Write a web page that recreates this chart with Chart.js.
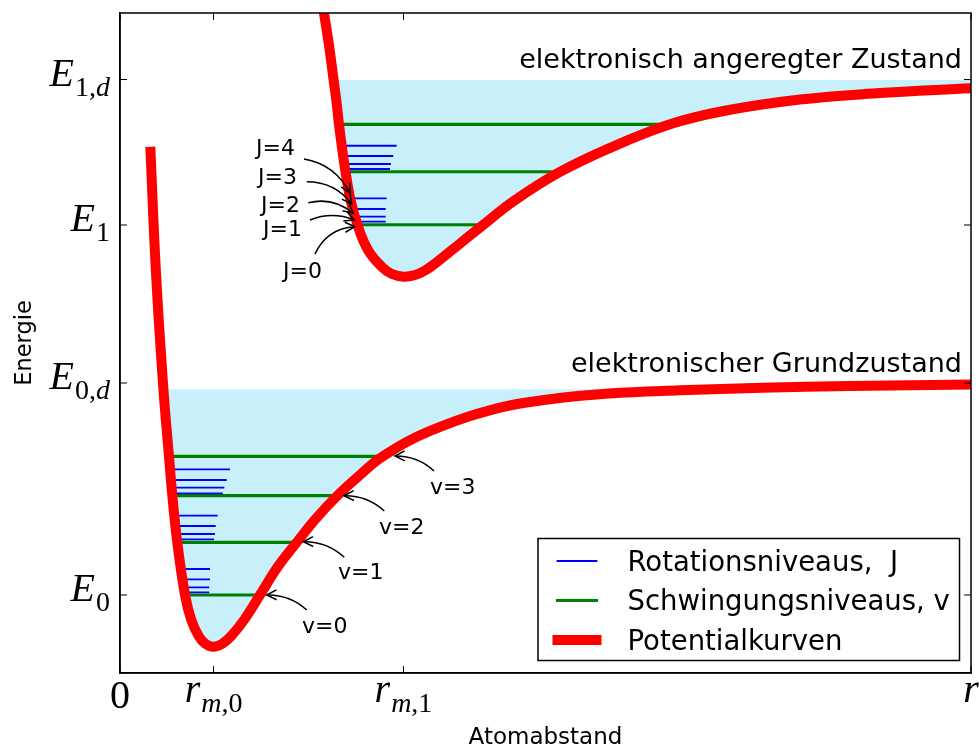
<!DOCTYPE html>
<html><head><meta charset="utf-8">
<script src="https://cdn.jsdelivr.net/npm/chart.js@4.4.1/dist/chart.umd.min.js"></script>
<style>html,body{margin:0;padding:0;background:#fff;overflow:hidden}#wrap{width:979px;height:749px}</style>
</head><body><div id="wrap"><canvas id="c" width="979" height="749"></canvas></div>
<script>
// ---------- data ----------
const xTickValues = [0, 1.099, 3.331, 10];
const xTickLabels = ['0', 'r_{m,0}', 'r_{m,1}', 'r'];
const yTickValues = [1.182, 4.394, 6.788, 8.992];
const yTickLabels = ['E_{0}', 'E_{0,d}', 'E_{1}', 'E_{1,d}'];

const groundX = [0.356, 0.423, 0.511, 0.576, 0.615, 0.673, 0.764, 0.838, 0.924, 0.999, 1.096, 1.206, 1.308, 1.457, 1.645, 1.857, 2.080, 2.303, 2.550, 2.820, 3.090, 3.643, 4.442, 5.053, 5.746, 6.580, 7.544, 8.578, 10.0];
const groundY = [7.974, 6.061, 4.288, 3.277, 2.686, 1.980, 1.182, 0.803, 0.561, 0.447, 0.398, 0.447, 0.561, 0.803, 1.182, 1.614, 1.985, 2.341, 2.682, 3.000, 3.283, 3.667, 4.012, 4.148, 4.235, 4.283, 4.321, 4.348, 4.371];
const excitedX = [2.374, 2.397, 2.459, 2.510, 2.544, 2.573, 2.609, 2.650, 2.709, 2.789, 2.914, 3.075, 3.196, 3.334, 3.467, 3.584, 3.725, 3.995, 4.266, 4.625, 5.159, 5.746, 6.463, 7.092, 7.991, 8.884, 10.0];
const excitedY = [10.197, 10.0, 9.485, 8.985, 8.652, 8.314, 7.955, 7.595, 7.167, 6.798, 6.409, 6.156, 6.045, 6.005, 6.030, 6.098, 6.227, 6.506, 6.788, 7.150, 7.585, 7.950, 8.314, 8.515, 8.689, 8.783, 8.859];
const groundDissociation = 4.30;
const excitedDissociation = 8.985;

const vibY      = [1.182, 1.980, 2.686, 3.283, 6.792, 7.595, 8.314];
const vibXStart = [0.764, 0.673, 0.615, 0.576, 2.789, 2.652, 2.577];
const vibXEnd   = [1.645, 2.080, 2.550, 3.090, 4.254, 5.135, 6.463];

const rotY      = [1.223, 1.298, 1.420, 1.576,  2.026, 2.106, 2.227, 2.383,  2.723, 2.808, 2.924, 3.086,  6.838, 6.914, 7.030, 7.192,  7.636, 7.712, 7.833, 7.989];
const rotXStart = [0.759, 0.755, 0.740, 0.723,  0.670, 0.663, 0.652, 0.639,  0.611, 0.606, 0.599, 0.588,  2.781, 2.769, 2.749, 2.720,  2.647, 2.640, 2.627, 2.610];
const rotXEnd   = [1.049, 1.049, 1.058, 1.058,  1.105, 1.116, 1.125, 1.148,  1.207, 1.226, 1.254, 1.293,  3.122, 3.122, 3.122, 3.134,  3.173, 3.184, 3.211, 3.251];

const seriesNames = ['Rotationsniveaus,  J', 'Schwingungsniveaus, v', 'Potentialkurven'];
const stateLabels = ['elektronisch angeregter Zustand', 'elektronischer Grundzustand'];
const annotationTexts = ['J=4', 'J=3', 'J=2', 'J=1', 'J=0', 'v=0', 'v=1', 'v=2', 'v=3'];
const axisTitles = ['Atomabstand', 'Energie'];

// ---------- layout of texts (data coordinates) ----------
const annotationLayout = [
  {text:[1.598,7.848], tail:[2.162,7.788], head:[2.703,7.268], rad:0.25},
  {text:[1.622,7.405], tail:[2.194,7.444], head:[2.723,7.106], rad:0.25},
  {text:[1.657,6.989], tail:[2.213,7.126], head:[2.741,6.965], rad:0.25},
  {text:[1.680,6.621], tail:[2.233,6.864], head:[2.753,6.864], rad:0.2},
  {text:[1.915,5.980], tail:[2.291,6.348], head:[2.761,6.762], rad:0.3},
  {text:[2.139,0.611], tail:[2.194,0.955], head:[1.724,1.182], rad:-0.2},
  {text:[2.562,1.420], tail:[2.636,1.753], head:[2.154,1.989], rad:-0.2},
  {text:[3.043,2.106], tail:[3.106,2.455], head:[2.632,2.686], rad:-0.2},
  {text:[3.643,2.712], tail:[3.690,3.061], head:[3.231,3.288], rad:-0.2}
];
const stateLabelLayout = [[9.894, 9.167], [9.894, 4.561]];

// ---------- build datasets ----------
const zip = (xs, ys) => xs.map((x, i) => ({x, y: ys[i]}));
function segments(xs, xe, ys) {
  const out = [];
  ys.forEach((y, i) => { out.push({x: xs[i], y}, {x: xe[i], y}, {x: xe[i], y: null}); });
  return out;
}
function fillShape(xs, ys, top) {
  const pts = [];
  let started = false;
  xs.forEach((x, i) => {
    if (!started && ys[i] <= top) started = true;
    if (started) pts.push({x, y: ys[i]});
  });
  pts.push({x: xs[xs.length - 1], y: top});
  pts.push({x: pts[0].x, y: top});
  return pts;
}
const RED = '#ff0000', GREEN = '#008000', BLUE = '#0000ff', FILL = '#c7f0fb';

const datasets = [
  {label: seriesNames[2], data: zip(groundX, groundY), borderColor: RED, borderWidth: 10, tension: 0.4, clip: 0, borderCapStyle: 'butt', borderJoinStyle: 'round'},
  {label: seriesNames[2], data: zip(excitedX, excitedY), borderColor: RED, borderWidth: 10, tension: 0.4, clip: 0, borderCapStyle: 'butt', borderJoinStyle: 'round'},
  {label: seriesNames[0], data: segments(rotXStart, rotXEnd, rotY), borderColor: BLUE, borderWidth: 1.8, spanGaps: false, clip: 0},
  {label: seriesNames[1], data: segments(vibXStart, vibXEnd, vibY), borderColor: GREEN, borderWidth: 3.2, spanGaps: false, clip: 0},
  {label: 'fill1', data: fillShape(excitedX, excitedY, excitedDissociation), borderWidth: 0, borderColor: 'rgba(0,0,0,0)', backgroundColor: FILL, fill: 'shape', clip: 0},
  {label: 'fill0', data: fillShape(groundX, groundY, groundDissociation), borderWidth: 0, borderColor: 'rgba(0,0,0,0)', backgroundColor: FILL, fill: 'shape', clip: 0}
];
datasets.forEach(d => { d.showLine = true; d.pointRadius = 0; d.pointHoverRadius = 0; });

// ---------- math label helpers ----------
const SERIF = '"Liberation Serif", "DejaVu Serif", serif';
const BASE = 40, SUB = 28, DROP = 10;
function parseMath(s) { const m = s.match(/^([^_]*)(?:_\{(.*)\})?$/); return {base: m[1], sub: m[2] || ''}; }
function font(it, size) { return (it ? 'italic ' : '') + size + 'px ' + SERIF; }
function runW(ctx, str, size) { let w = 0; for (const ch of str) { ctx.font = font(/[A-Za-z]/.test(ch), size); w += ctx.measureText(ch).width; } return w; }
function runDraw(ctx, str, size, x, y) { for (const ch of str) { ctx.font = font(/[A-Za-z]/.test(ch), size); ctx.fillText(ch, x, y); x += ctx.measureText(ch).width; } return x; }
function mathWidth(ctx, lab) { const p = parseMath(lab); return runW(ctx, p.base, BASE) + (p.sub ? 1 + runW(ctx, p.sub, SUB) : 0); }
function mathDraw(ctx, lab, x, y) { const p = parseMath(lab); let nx = runDraw(ctx, p.base, BASE, x, y); if (p.sub) runDraw(ctx, p.sub, SUB, nx + 1, y + DROP); }

const overlay = {
  id: 'overlay',
  afterDraw(chart) {
    const ctx = chart.ctx, xs = chart.scales.x, ys = chart.scales.y, ca = chart.chartArea;
    const px = v => xs.getPixelForValue(v), py = v => ys.getPixelForValue(v);
    ctx.save();
    ctx.fillStyle = '#000'; ctx.strokeStyle = '#000';
    // annotations with arrows
    annotationTexts.forEach((t, i) => {
      const a = annotationLayout[i];
      ctx.font = '22px "DejaVu Sans"'; ctx.textAlign = 'left'; ctx.textBaseline = 'alphabetic';
      ctx.fillText(t, px(a.text[0]), py(a.text[1]));
      const x1 = px(a.tail[0]), y1 = py(a.tail[1]), x2 = px(a.head[0]), y2 = py(a.head[1]);
      const mx = (x1 + x2) / 2, my = (y1 + y2) / 2, dx = x2 - x1, dy = y2 - y1;
      const cx = mx + a.rad * dy, cy = my - a.rad * dx;
      ctx.lineWidth = 1.5; ctx.lineCap = 'butt';
      ctx.beginPath(); ctx.moveTo(x1, y1); ctx.quadraticCurveTo(cx, cy, x2, y2); ctx.stroke();
      const ang = Math.atan2(y2 - cy, x2 - cx), L = 11, h = 0.47;
      ctx.beginPath();
      ctx.moveTo(x2 - L * Math.cos(ang - h), y2 - L * Math.sin(ang - h));
      ctx.lineTo(x2, y2);
      ctx.lineTo(x2 - L * Math.cos(ang + h), y2 - L * Math.sin(ang + h));
      ctx.stroke();
    });
    // state labels
    ctx.font = '27px "DejaVu Sans"'; ctx.textAlign = 'right';
    stateLabels.forEach((t, i) => ctx.fillText(t, px(stateLabelLayout[i][0]), py(stateLabelLayout[i][1])));
    // frame
    ctx.lineWidth = 1.5;
    ctx.strokeRect(ca.left, ca.top, ca.right - ca.left, ca.bottom - ca.top);
    // inward ticks on all sides
    ctx.lineWidth = 1;
    xs.ticks.forEach(t => { const x = px(t.value);
      ctx.beginPath(); ctx.moveTo(x, ca.bottom); ctx.lineTo(x, ca.bottom - 7); ctx.moveTo(x, ca.top); ctx.lineTo(x, ca.top + 7); ctx.stroke(); });
    ys.ticks.forEach(t => { const y = py(t.value);
      ctx.beginPath(); ctx.moveTo(ca.left, y); ctx.lineTo(ca.left + 7, y); ctx.moveTo(ca.right, y); ctx.lineTo(ca.right - 7, y); ctx.stroke(); });
    // tick labels (math style)
    ctx.textAlign = 'left'; ctx.textBaseline = 'alphabetic';
    xs.ticks.forEach((t, i) => {
      const lab = xTickLabels[i], p = parseMath(lab);
      ctx.font = font(/[A-Za-z]/.test(p.base), BASE);
      const asc = ctx.measureText(p.base).actualBoundingBoxAscent;
      const w = mathWidth(ctx, lab);
      mathDraw(ctx, lab, px(t.value) - w / 2, ca.bottom + 9 + asc);
    });
    ys.ticks.forEach((t, i) => {
      const lab = yTickLabels[i];
      const w = mathWidth(ctx, lab);
      mathDraw(ctx, lab, ca.left - 10 - w, py(t.value) + 6.5);
    });
    // axis titles
    ctx.font = '23px "DejaVu Sans"'; ctx.textAlign = 'center';
    ctx.fillText(axisTitles[0], (ca.left + ca.right) / 2, 744);
    ctx.font = '22.5px "DejaVu Sans"';
    ctx.save(); ctx.translate(31, (ca.top + ca.bottom) / 2); ctx.rotate(-Math.PI / 2);
    ctx.fillText(axisTitles[1], 0, 0); ctx.restore();
    // legend
    const bx = ca.right - 11.5 - 421.5, by = ca.bottom - 12.5 - 122, bw = 421.5, bh = 122;
    ctx.fillStyle = '#fff'; ctx.fillRect(bx, by, bw, bh);
    ctx.lineWidth = 1.5; ctx.strokeStyle = '#000'; ctx.strokeRect(bx, by, bw, bh);
    const legendSets = [chart.data.datasets[2], chart.data.datasets[3], chart.data.datasets[0]];
    legendSets.forEach((d, i) => {
      const yy = by + 22.5 + i * 39.5;
      ctx.strokeStyle = d.borderColor; ctx.lineWidth = d.borderWidth; ctx.lineCap = 'square';
      ctx.beginPath(); ctx.moveTo(bx + 19.5, yy); ctx.lineTo(bx + 58.5, yy); ctx.stroke();
      ctx.fillStyle = '#000'; ctx.font = '27.5px "DejaVu Sans"'; ctx.textAlign = 'left';
      ctx.fillText(seriesNames[i], bx + 89.5, yy + 9.5);
    });
    ctx.restore();
  }
};

new Chart(document.getElementById('c'), {
  type: 'scatter',
  data: {datasets},
  options: {
    responsive: false, animation: false, devicePixelRatio: 1,
    layout: {padding: {left: 120, top: 13, right: 8, bottom: 76}},
    plugins: {legend: {display: false}, tooltip: {enabled: false}},
    scales: {
      x: {type: 'linear', min: 0, max: 10, grid: {display: false, drawTicks: false}, border: {display: true, color: '#000', width: 1.5}, ticks: {display: false},
          afterBuildTicks: s => { s.ticks = xTickValues.map(v => ({value: v})); }},
      y: {type: 'linear', min: 0, max: 10, grid: {display: false, drawTicks: false}, border: {display: true, color: '#000', width: 1.5}, ticks: {display: false},
          afterBuildTicks: s => { s.ticks = yTickValues.map(v => ({value: v})); }}
    }
  },
  plugins: [overlay]
});
</script></body></html>
